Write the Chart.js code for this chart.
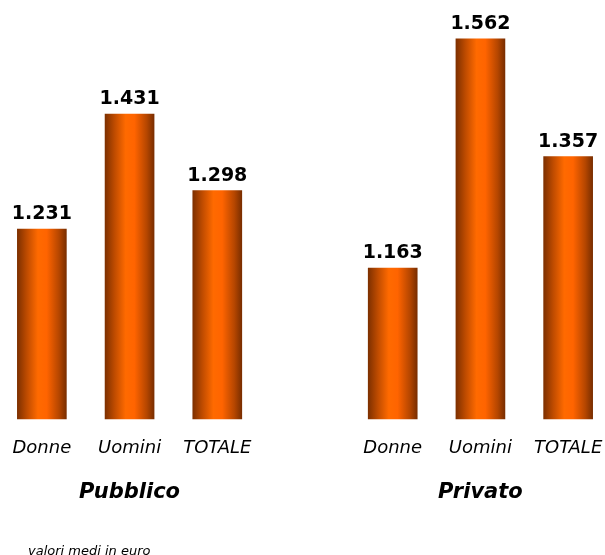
<!DOCTYPE html>
<html>
<head>
<meta charset="utf-8">
<script src="https://cdn.jsdelivr.net/npm/chart.js@4"></script>
<style>
  html, body { margin: 0; padding: 0; background: #fff; overflow: hidden; }
  #wrap { position: relative; width: 614px; height: 555px; margin-left: -2px; }
</style>
</head>
<body>
<div id="wrap"><canvas id="stipendi"></canvas></div>
<script>
// retribuzioni medie mensili, settore pubblico / privato
const categorie = ['Donne', 'Uomini', 'TOTALE', '', 'Donne', 'Uomini', 'TOTALE'];
const settori = ['', 'Pubblico', '', '', '', 'Privato', ''];
const retribuzioni = [1231, 1431, 1298, null, 1163, 1562, 1357];
const yMin = 900;
const yMax = 1600;
const nota = 'valori medi in euro';

const FONT = "'DejaVu Sans', Verdana, sans-serif";
const BAR_W = 49;

function formatEuro(v) {
  return String(v).replace(/\B(?=(\d{3})+(?!\d))/g, '.');
}

// sfumatura orizzontale: bordi marroni, centro arancio
function barGradient(context) {
  const chart = context.chart;
  const x = chart.scales.x;
  if (!x || !chart.chartArea) return '#ff6600';
  const cx = x.getPixelForValue(context.dataIndex);
  const g = chart.ctx.createLinearGradient(cx - BAR_W / 2, 0, cx + BAR_W / 2, 0);
  g.addColorStop(0, '#7e3000');
  g.addColorStop(0.2, '#c04c00');
  g.addColorStop(0.42, '#ff6a00');
  g.addColorStop(0.6, '#ff6400');
  g.addColorStop(0.85, '#b54600');
  g.addColorStop(1, '#7a2e00');
  return g;
}

// etichette dei valori sopra le barre + nota in basso
const etichette = {
  id: 'etichette',
  afterDatasetsDraw(chart) {
    const ctx = chart.ctx;
    const meta = chart.getDatasetMeta(0);
    ctx.save();
    ctx.fillStyle = '#000';
    ctx.font = 'bold 19px ' + FONT;
    ctx.textAlign = 'center';
    ctx.textBaseline = 'alphabetic';
    meta.data.forEach((bar, i) => {
      const v = retribuzioni[i];
      if (v == null) return;
      ctx.fillText(formatEuro(v), bar.x, bar.y - 10);
    });
    ctx.font = 'italic 13px ' + FONT;
    ctx.textAlign = 'left';
    ctx.fillText(nota, 30, 555);
    ctx.restore();
  }
};

new Chart(document.getElementById('stipendi'), {
  type: 'bar',
  data: {
    labels: categorie,
    datasets: [{
      data: retribuzioni,
      backgroundColor: barGradient,
      borderWidth: 0,
      barThickness: BAR_W
    }]
  },
  options: {
    responsive: true,
    maintainAspectRatio: false,
    animation: false,
    layout: { padding: { top: 17, bottom: 50, left: 0, right: 0 } },
    plugins: {
      legend: { display: false },
      tooltip: { enabled: false }
    },
    scales: {
      y: {
        display: false,
        min: yMin,
        max: yMax
      },
      x: {
        position: 'bottom',
        grid: { display: false, drawTicks: true, tickLength: 18 },
        border: { display: false },
        ticks: {
          color: '#000',
          font: { family: FONT, size: 18, style: 'italic' },
          padding: 0,
          autoSkip: false,
          maxRotation: 0
        }
      },
      x2: {
        type: 'category',
        position: 'bottom',
        labels: settori,
        offset: true,
        grid: { display: false, drawTicks: true, tickLength: 21 },
        border: { display: false },
        ticks: {
          color: '#000',
          font: { family: FONT, size: 21, style: 'italic', weight: 'bold' },
          padding: 0,
          autoSkip: false,
          maxRotation: 0
        }
      }
    }
  },
  plugins: [etichette]
});
</script>
</body>
</html>
